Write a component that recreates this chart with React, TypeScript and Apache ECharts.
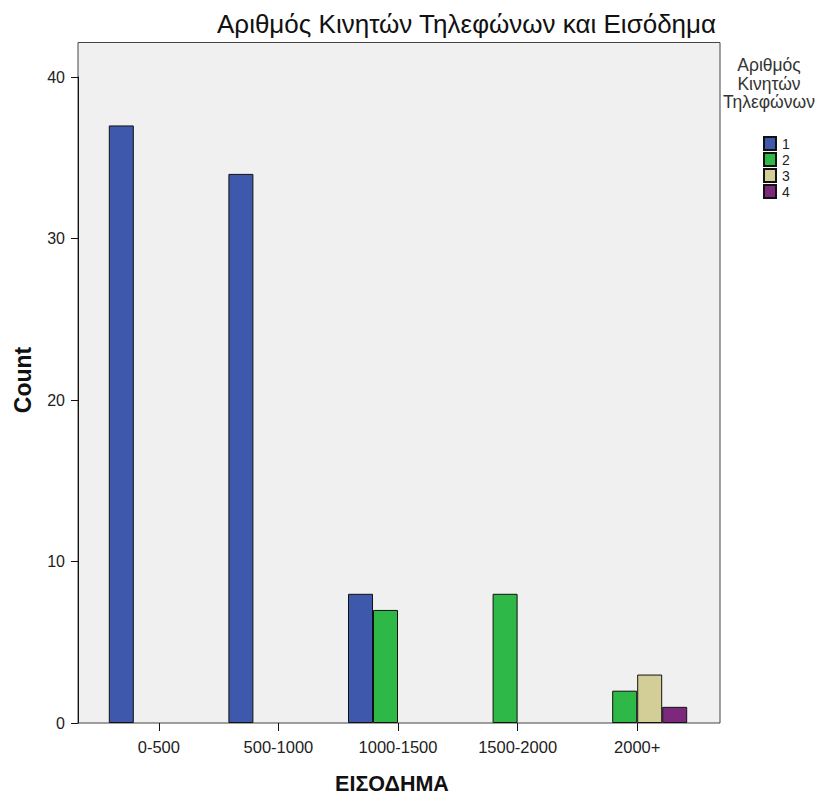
import React, { useEffect, useRef } from "react";
import * as echarts from "echarts";

// Income bands (x categories)
const incomeBands = ["0-500", "500-1000", "1000-1500", "1500-2000", "2000+"];
// Number of mobile phones (legend groups)
const phoneCounts = ["1", "2", "3", "4"];
// Counts per income band for each group
const onePhone = [37, 34, 8, 0, 0];
const twoPhones = [0, 0, 7, 8, 2];
const threePhones = [0, 0, 0, 0, 3];
const fourPhones = [0, 0, 0, 0, 1];
const yTicks = [0, 10, 20, 30, 40];

const groupValues = [onePhone, twoPhones, threePhones, fourPhones];
const groupColors = ["#3E58AC", "#2EB848", "#D3CE97", "#7C287D"];

const FONT = "'Liberation Sans', Arial, sans-serif";

export default function App() {
  const ref = useRef<HTMLDivElement>(null);

  useEffect(() => {
    document.body.style.margin = "0";
    if (!ref.current) return;
    const chart = echarts.init(ref.current, undefined, { renderer: "svg" });

    const series = phoneCounts.map((name, i) => ({
      name,
      type: "bar",
      barWidth: 25,
      barGap: "0%",
      data: groupValues[i].map((v) => (v === 0 ? null : v)),
      itemStyle: { color: groupColors[i], borderColor: "#111", borderWidth: 1 },
      z: 3,
    }));

    chart.setOption({
      animation: false,
      backgroundColor: "#ffffff",
      textStyle: { fontFamily: FONT },
      title: {
        text: "Αριθμός Κινητών Τηλεφώνων και Εισόδημα",
        left: 212,
        top: 6,
        textStyle: { fontFamily: FONT, fontSize: 26, fontWeight: "normal", color: "#111" },
      },
      grid: { left: 99, right: 134, top: 77, bottom: 74, containLabel: false },
      legend: {
        data: phoneCounts,
        orient: "vertical",
        left: 763,
        top: 136,
        icon: "rect",
        itemWidth: 12,
        itemHeight: 13,
        itemGap: 1,
        padding: 0,
        selectedMode: false,
        textStyle: {
          fontFamily: FONT,
          fontSize: 14,
          lineHeight: 14,
          color: "#222",
          padding: [0, 0, 0, 1],
        },
      },
      xAxis: {
        type: "category",
        data: incomeBands,
        axisLine: { show: false },
        axisTick: { show: true, alignWithLabel: true, length: 8, lineStyle: { color: "#111" } },
        axisLabel: { fontFamily: FONT, fontSize: 16.5, color: "#222", margin: 15 },
        splitLine: { show: false },
      },
      yAxis: {
        type: "value",
        min: 0,
        max: 40,
        interval: 10,
        offset: 21,
        axisLine: { show: true, lineStyle: { color: "#111" } },
        axisTick: { show: true, length: 7, lineStyle: { color: "#111" } },
        axisLabel: {
          fontFamily: FONT,
          fontSize: 16,
          color: "#222",
          margin: 13,
          formatter: (v: number) => (yTicks.includes(v) ? String(v) : ""),
        },
        splitLine: { show: false },
      },
      graphic: [
        {
          type: "rect",
          z: -10,
          shape: { x: 78, y: 42.5, width: 642, height: 680.5 },
          style: { fill: "#F0F0F0", stroke: "#444", lineWidth: 1 },
        },
        {
          type: "text",
          x: 23,
          y: 380,
          rotation: Math.PI / 2,
          style: {
            text: "Count",
            fontFamily: FONT,
            fontSize: 23,
            fontWeight: "bold",
            fill: "#111",
            textAlign: "center",
            textVerticalAlign: "middle",
          },
        },
        {
          type: "text",
          x: 392,
          y: 784,
          style: {
            text: "ΕΙΣΟΔΗΜΑ",
            fontFamily: FONT,
            fontSize: 21.5,
            fontWeight: "bold",
            fill: "#111",
            textAlign: "center",
            textVerticalAlign: "middle",
          },
        },
        {
          type: "text",
          x: 769,
          y: 56,
          style: {
            text: "Αριθμός\nΚινητών\nΤηλεφώνων",
            fontFamily: FONT,
            fontSize: 17.5,
            lineHeight: 18.5,
            fill: "#333",
            textAlign: "center",
            textVerticalAlign: "top",
          },
        },
      ],
      series,
    });

    return () => chart.dispose();
  }, []);

  return <div ref={ref} style={{ width: 831, height: 797 }} />;
}
